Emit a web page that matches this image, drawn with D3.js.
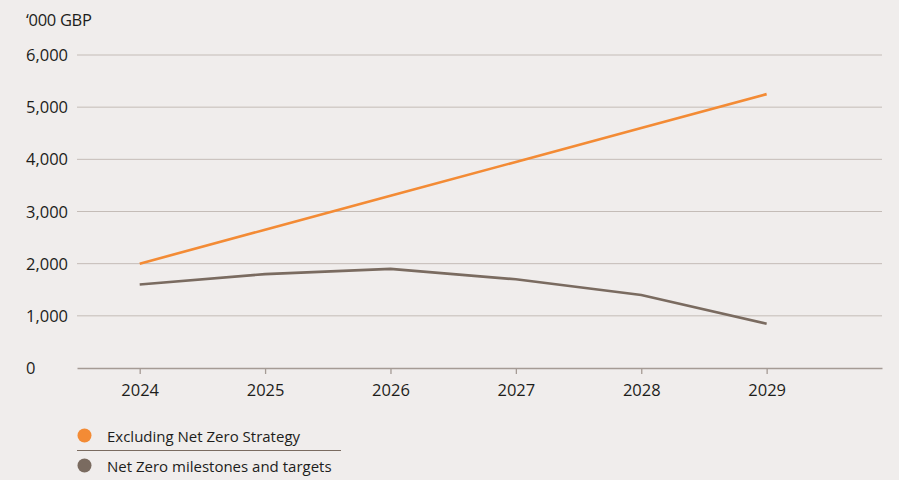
<!DOCTYPE html>
<html>
<head>
<meta charset="utf-8">
<script src="https://cdn.jsdelivr.net/npm/d3@7"></script>
<style>
  html, body { margin: 0; padding: 0; background: #f0edec; }
  svg { display: block; font-family: "Open Sans", "DejaVu Sans", sans-serif; }
</style>
</head>
<body>
<svg id="chart" width="899" height="480"></svg>
<script>
// Chart data
const years = [2024, 2025, 2026, 2027, 2028, 2029];
const excludingNetZero = [2000, 2650, 3300, 3950, 4600, 5250];
const netZeroMilestones = [1600, 1800, 1900, 1700, 1400, 850];
const yTicks = [0, 1000, 2000, 3000, 4000, 5000, 6000];
const seriesNames = ["Excluding Net Zero Strategy", "Net Zero milestones and targets"];
const unitLabel = "\u2018000 GBP";

const colors = { orange: "#f38b35", brown: "#7a6b60", grid: "#c4bcb7", axis: "#a59b95", text: "#1d1d1b" };

const svg = d3.select("#chart");
const plotLeft = 77, plotRight = 882, plotTop = 55, plotBottom = 368;

const x = d3.scaleLinear().domain([2023.5, 2029.92]).range([plotLeft, plotRight]);
const y = d3.scaleLinear().domain([0, 6000]).range([plotBottom, plotTop]);

// Unit label
svg.append("text")
  .attr("x", 26).attr("y", 26)
  .attr("font-size", 16.5).attr("fill", colors.text)
  .attr("letter-spacing", -0.3)
  .text(unitLabel);

// Horizontal gridlines and y labels
const yAxis = svg.append("g");
yAxis.selectAll("line.grid")
  .data(yTicks.filter(d => d > 0))
  .join("line")
  .attr("class", "grid")
  .attr("x1", plotLeft).attr("x2", plotRight)
  .attr("y1", d => y(d)).attr("y2", d => y(d))
  .attr("stroke", colors.grid).attr("stroke-width", 1);

yAxis.selectAll("text")
  .data(yTicks)
  .join("text")
  .attr("x", 26)
  .attr("y", d => y(d) + 6)
  .attr("font-size", 16.5).attr("fill", colors.text)
  .text(d => d3.format(",")(d));

// X axis with baseline and ticks
const xAxis = d3.axisBottom(x)
  .tickValues(years)
  .tickFormat(d3.format("d"))
  .tickSizeInner(6)
  .tickSizeOuter(0)
  .tickPadding(10);

const gx = svg.append("g")
  .attr("transform", `translate(0,${plotBottom})`)
  .call(xAxis);
gx.select(".domain").attr("stroke", colors.axis).attr("stroke-width", 1.3);
gx.selectAll(".tick line").attr("stroke", colors.axis).attr("stroke-width", 1.3);
gx.selectAll(".tick text")
  .attr("font-size", 16.5).attr("fill", colors.text)
  .attr("font-family", "\"Open Sans\", \"DejaVu Sans\", sans-serif");

// Lines
const line = d3.line().x((d, i) => x(years[i])).y(d => y(d));

svg.append("path")
  .datum(netZeroMilestones)
  .attr("d", line)
  .attr("fill", "none")
  .attr("stroke", colors.brown).attr("stroke-width", 2.6);

svg.append("path")
  .datum(excludingNetZero)
  .attr("d", line)
  .attr("fill", "none")
  .attr("stroke", colors.orange).attr("stroke-width", 2.6);

// Legend
const legendColors = [colors.orange, colors.brown];
const legend = svg.append("g");
seriesNames.forEach((name, i) => {
  const cy = 435.5 + i * 30;
  legend.append("circle")
    .attr("cx", 84.5).attr("cy", cy).attr("r", 7)
    .attr("fill", legendColors[i]);
  legend.append("text")
    .attr("x", 107).attr("y", cy + 6)
    .attr("font-size", 15).attr("fill", colors.text)
    .text(name);
});
legend.append("line")
  .attr("x1", 77).attr("x2", 341)
  .attr("y1", 450.5).attr("y2", 450.5)
  .attr("stroke", colors.brown).attr("stroke-width", 1);
</script>
</body>
</html>
